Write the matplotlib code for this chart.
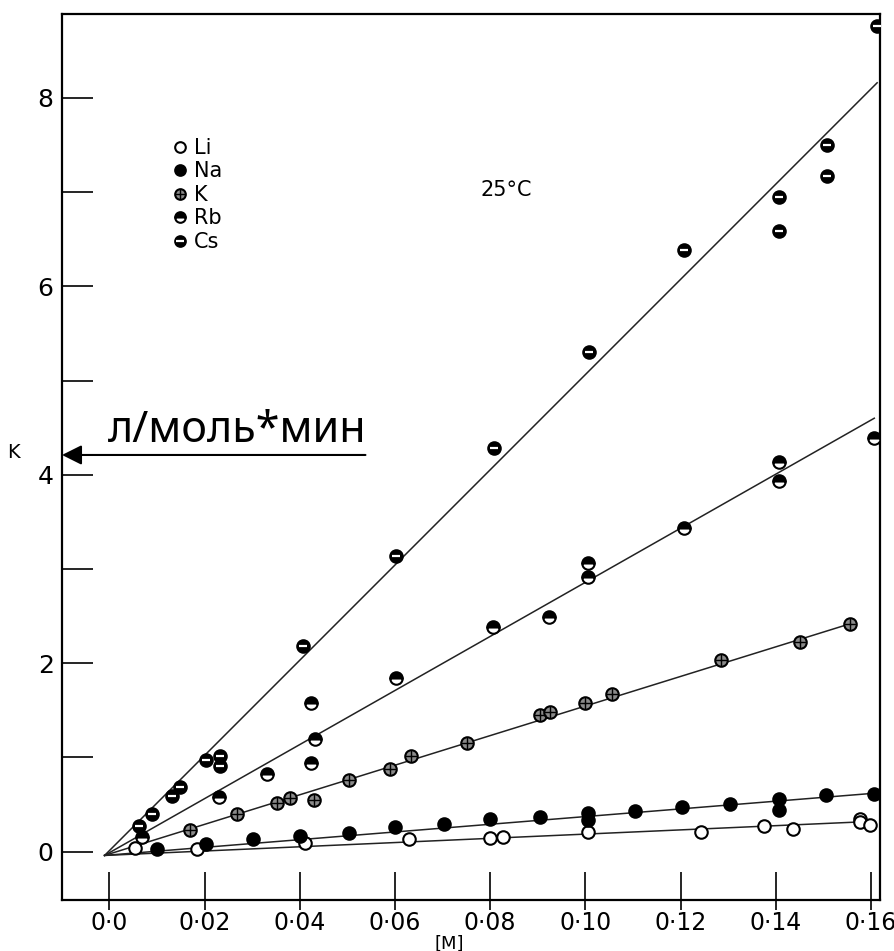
import matplotlib
matplotlib.use("Agg")
import matplotlib.pyplot as plt
from matplotlib.ticker import FixedLocator, NullFormatter
from matplotlib.legend_handler import HandlerTuple

# ---------------- data ----------------
li_x = [0.0054, 0.0185, 0.041, 0.0629, 0.080, 0.0826, 0.1005, 0.1243, 0.1376, 0.1437, 0.1576, 0.1576, 0.1597]
li_y = [0.04, 0.03, 0.09, 0.135, 0.15, 0.155, 0.21, 0.21, 0.27, 0.24, 0.35, 0.31, 0.28]

na_x = [0.0101, 0.0202, 0.0301, 0.0400, 0.0503, 0.0601, 0.0702, 0.0800, 0.0904, 0.1005, 0.1005,
        0.1104, 0.1203, 0.1304, 0.1407, 0.1407, 0.1506, 0.1607]
na_y = [0.03, 0.08, 0.135, 0.17, 0.20, 0.26, 0.29, 0.35, 0.37, 0.41, 0.34,
        0.43, 0.47, 0.51, 0.56, 0.44, 0.60, 0.61]

k_x = [0.017, 0.0269, 0.0353, 0.038, 0.0429, 0.0503, 0.059, 0.0633, 0.0751, 0.0904, 0.0925,
       0.0999, 0.1056, 0.1285, 0.1451, 0.1557]
k_y = [0.23, 0.40, 0.52, 0.57, 0.55, 0.76, 0.88, 1.01, 1.15, 1.45, 1.48,
       1.58, 1.67, 2.03, 2.23, 2.42]

rb_x = [0.0069, 0.0231, 0.0332, 0.0423, 0.0433, 0.0423, 0.0603, 0.0806, 0.0924, 0.1005, 0.1005,
        0.1207, 0.1407, 0.1407, 0.1607]
rb_y = [0.16, 0.58, 0.82, 0.94, 1.20, 1.58, 1.84, 2.38, 2.49, 3.06, 2.92,
        3.43, 4.14, 3.93, 4.39]

cs_x = [0.0063, 0.009, 0.0132, 0.0149, 0.0204, 0.0233, 0.0233, 0.0406, 0.0603, 0.0808, 0.1007,
        0.1207, 0.1407, 0.1407, 0.1508, 0.1508, 0.1613]
cs_y = [0.27, 0.40, 0.59, 0.69, 0.97, 1.02, 0.91, 2.18, 3.14, 4.28, 5.30,
        6.39, 6.95, 6.59, 7.50, 7.17, 8.76]

# fitted straight lines (start, end) as drawn
line_start = (-0.001, -0.04)
line_end_x = {"Li": 0.1597, "Na": 0.1607, "K": 0.1557, "Rb": 0.1607, "Cs": 0.1613}
line_end_y = {"Li": 0.32, "Na": 0.62, "K": 2.42, "Rb": 4.60, "Cs": 8.16}

xticks = [0.0, 0.02, 0.04, 0.06, 0.08, 0.10, 0.12, 0.14, 0.16]
xticklabels = ["0·0", "0·02", "0·04", "0·06", "0·08", "0·10", "0·12", "0·14", "0·16"]
yticks = [0, 2, 4, 6, 8]
yminor = [1, 3, 5, 7]

# ---------------- figure ----------------
fig = plt.figure(figsize=(8.94, 9.51), dpi=100)
ax = fig.add_axes([62 / 894, 1 - 900 / 951, (880 - 62) / 894, (900 - 14) / 951])
ax.set_xlim(-0.00995, 0.1619)
ax.set_ylim(-0.513, 8.89)

for name in ["Li", "Na", "K", "Rb", "Cs"]:
    ax.plot([line_start[0], line_end_x[name]], [line_start[1], line_end_y[name]],
            color="#222222", lw=1.1, zorder=2)

ms = 9
mew = 1.5
h_li, = ax.plot(li_x, li_y, "o", ms=ms, mfc="white", mec="black", mew=mew, ls="none", zorder=3)
h_na, = ax.plot(na_x, na_y, "o", ms=ms, mfc="black", mec="black", mew=mew, ls="none", zorder=3)
h_k1, = ax.plot(k_x, k_y, "o", ms=ms, mfc="#8a8a8a", mec="black", mew=mew, ls="none", zorder=3)
h_k2, = ax.plot(k_x, k_y, "+", ms=ms - 1, mec="black", mew=1.0, ls="none", zorder=4)
h_rb, = ax.plot(rb_x, rb_y, "o", ms=ms, fillstyle="top", mfc="black", markerfacecoloralt="white",
                mec="black", mew=mew, ls="none", zorder=3)
h_cs1, = ax.plot(cs_x, cs_y, "o", ms=ms, mfc="black", mec="black", mew=mew, ls="none", zorder=3)
h_cs2, = ax.plot(cs_x, cs_y, "_", ms=ms - 3, mec="white", mew=1.6, ls="none", zorder=4)

leg = ax.legend([h_li, h_na, (h_k1, h_k2), h_rb, (h_cs1, h_cs2)],
                ["Li", "Na", "K", "Rb", "Cs"],
                handler_map={tuple: HandlerTuple(ndivide=1, pad=0)},
                loc="upper left", bbox_to_anchor=(0.122, 0.872), frameon=False,
                fontsize=15, handlelength=0.7, handletextpad=0.35, labelspacing=0.17,
                borderpad=0, markerscale=0.85)

ax.text(0.0833, 7.02, "25°C", fontsize=15, ha="center", va="center")

# ticks
ax.xaxis.set_major_locator(FixedLocator(xticks))
ax.set_xticklabels(xticklabels)
ax.xaxis.set_minor_locator(FixedLocator(xticks))
ax.xaxis.set_minor_formatter(NullFormatter())
ax.xaxis.remove_overlapping_locs = False
ax.tick_params(axis="x", which="major", direction="in", length=20, width=1.2, labelsize=17, pad=8)
ax.tick_params(axis="x", which="minor", direction="out", length=7, width=1.2)

ax.yaxis.set_major_locator(FixedLocator(yticks))
ax.yaxis.set_minor_locator(FixedLocator(yminor))
ax.tick_params(axis="y", which="both", direction="in", length=22, width=1.2, labelsize=18, pad=6)

for s in ax.spines.values():
    s.set_linewidth(1.6)

ax.set_xlabel("[M]", fontsize=13)
ax.xaxis.set_label_coords(0.474, -0.039)
ax.set_ylabel("K", rotation=0, fontsize=14)
ax.yaxis.set_label_coords(-0.059, 0.494)

# overlay annotation
ax.annotate("", xy=(-0.00995, 4.21), xytext=(0.0538, 4.21),
            arrowprops=dict(arrowstyle="-|>", color="black", lw=1.5, mutation_scale=30,
                            shrinkA=0, shrinkB=0))
ax.text(-0.0003, 4.35, "л/моль*мин", fontsize=31, family=["Noto Sans", "DejaVu Sans"],
        ha="left", va="baseline")

fig.savefig("out.png", dpi=100)
